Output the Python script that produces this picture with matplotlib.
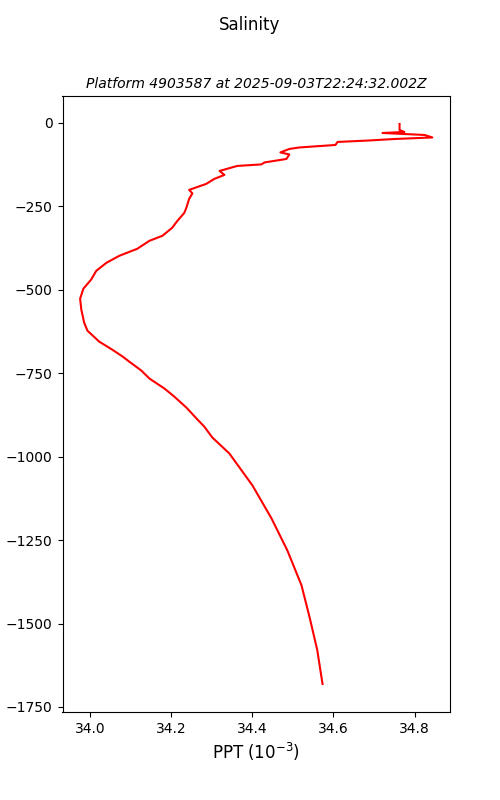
import matplotlib
matplotlib.use("Agg")
import matplotlib.pyplot as plt

salinity = [34.763, 34.763, 34.775, 34.721, 34.825, 34.844, 34.751, 34.689, 34.610, 34.605,
            34.516, 34.491, 34.469, 34.491, 34.484, 34.430, 34.422, 34.363, 34.319, 34.331,
            34.306, 34.286, 34.244, 34.252, 34.244, 34.237, 34.232, 34.215, 34.202, 34.178,
            34.146, 34.116, 34.072, 34.040, 34.015, 34.002, 33.983, 33.975, 33.978, 33.985,
            33.993, 34.022, 34.054, 34.080, 34.096, 34.126, 34.146, 34.183, 34.207, 34.237,
            34.262, 34.281, 34.301, 34.343, 34.400, 34.447, 34.486, 34.521, 34.541, 34.560,
            34.573]
depth = [-3.0, -20.9, -26.9, -29.9, -35.9, -43.4, -47.9, -52.3, -56.8, -65.8,
         -73.3, -77.8, -88.2, -94.2, -107.7, -118.2, -124.1, -128.6, -143.6, -155.6,
         -167.5, -182.5, -200.4, -210.9, -227.3, -254.3, -269.2, -293.2, -314.1, -338.0,
         -353.0, -376.9, -397.8, -418.8, -442.7, -469.6, -496.6, -526.5, -559.4, -598.3,
         -622.2, -655.1, -679.0, -700.0, -714.9, -741.8, -765.8, -795.7, -819.6, -852.5,
         -885.4, -909.4, -942.3, -990.1, -1085.9, -1184.6, -1280.3, -1385.0, -1480.7, -1579.4,
         -1681.1]

fig, ax = plt.subplots(figsize=(5, 8), dpi=100)
ax.plot(salinity, depth, color="red", linewidth=1.5)
fig.suptitle("Salinity", fontsize=12)
ax.set_title("Platform 4903587 at 2025-09-03T22:24:32.002Z", fontsize=10, style="italic")
ax.set_xlabel("PPT ($10^{-3}$)", fontsize=12)
ax.set_ylabel("depth (m)")
fig.savefig("out.png", dpi=100)
